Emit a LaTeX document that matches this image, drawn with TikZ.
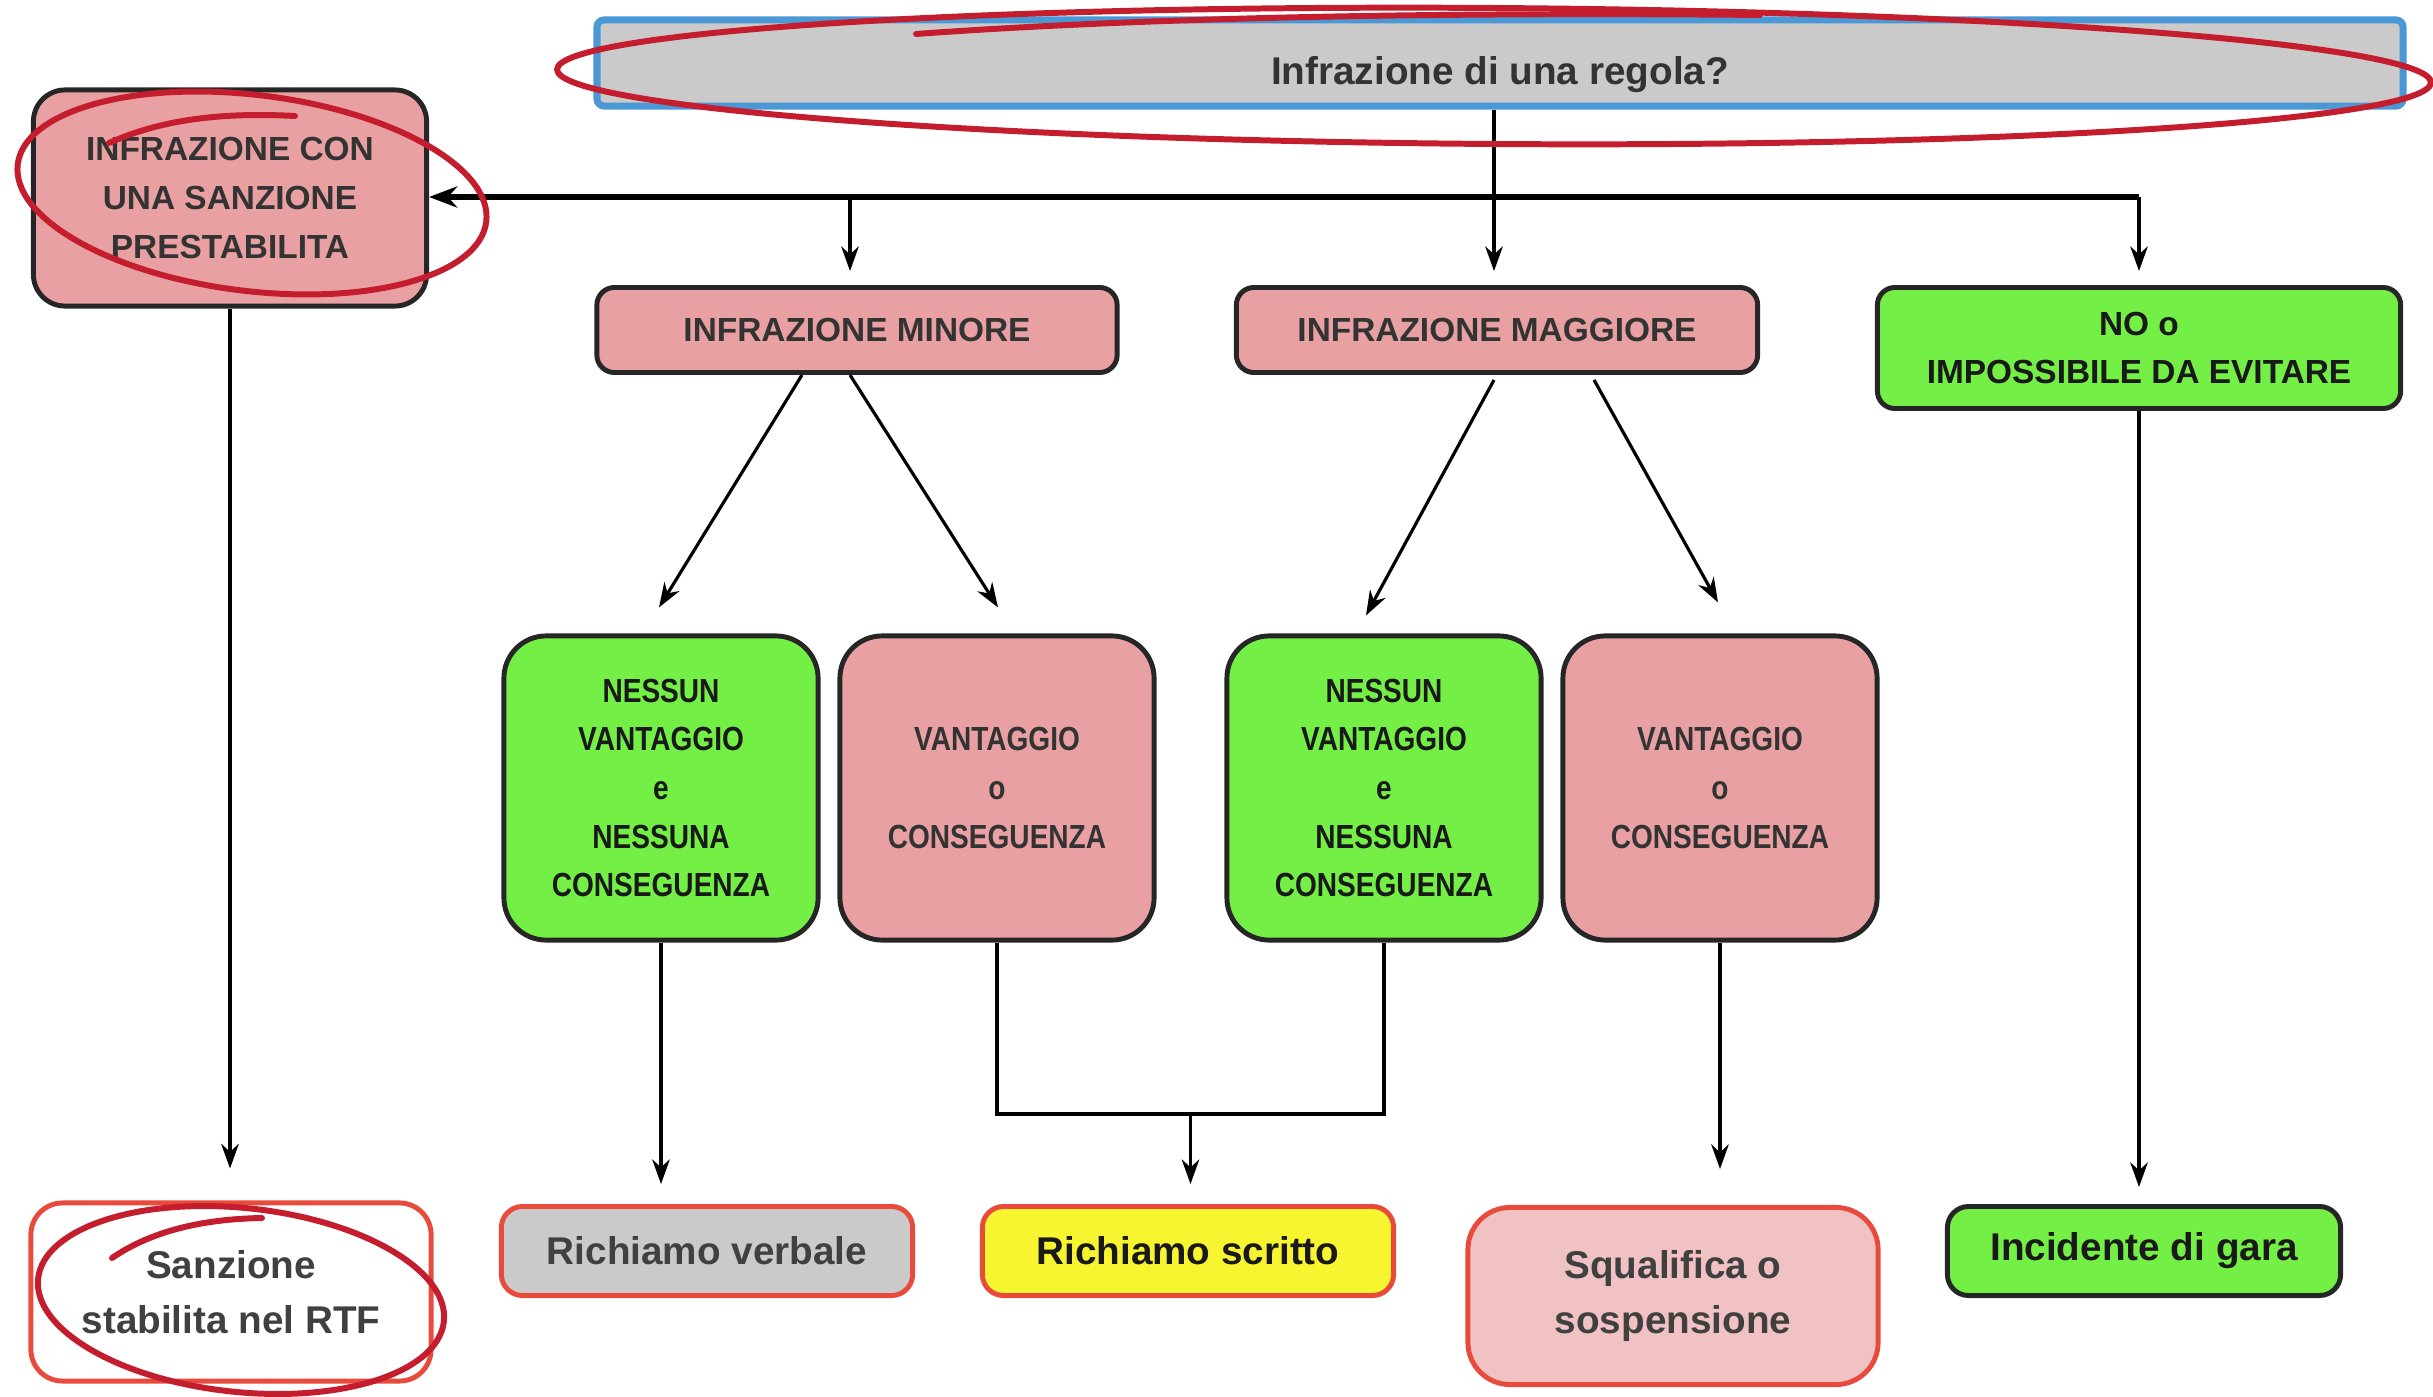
\documentclass[tikz,border=0pt]{standalone}
\usepackage{fontspec}
\setmainfont{Liberation Sans}
\newfontfamily\narrowfont[FakeStretch=0.84]{Liberation Sans}
\usepackage{tikz}
\usetikzlibrary{
  arrows.meta,
  positioning,
  calc
}
\definecolor{boxpink}{HTML}{E8A0A2}
\definecolor{boxgreen}{HTML}{73EF46}
\definecolor{boxgray}{HTML}{CACACA}
\definecolor{boxblue}{HTML}{4A98D6}
\definecolor{boxred}{HTML}{E84A3C}
\definecolor{boxyellow}{HTML}{F7F430}
\definecolor{softpink}{HTML}{F0C2C4}
\definecolor{markred}{HTML}{C41E2E}

\begin{document}
\begin{tikzpicture}[x=0.01cm, y=-0.01cm,
  box/.style     = {draw=black!85, line width=1.4pt, rounded corners=5pt, align=center,
                    inner sep=0pt, text=black!80, font=\fontsize{9.5}{13.8}\selectfont\bfseries},
  tallbox/.style = {box, rounded corners=12pt, minimum width=3.14cm, minimum height=3.04cm,
                    font=\narrowfont\fontsize{9.5}{13.8}\selectfont\bfseries},
  endbox/.style  = {draw=boxred, line width=1.4pt, rounded corners=6pt, align=center,
                    inner sep=0pt, text=black!75, font=\fontsize{11}{15.5}\selectfont\bfseries},
  arr/.style     = {line width=0.9pt, -{Stealth[length=7pt, width=5pt]}},
  bus/.style     = {line width=1.6pt},
  redmark/.style = {draw=markred, line width=1.7pt, line cap=round}
  ]
  \useasboundingbox (0,0) rectangle (2433,1397);

  % Question
  \node [draw=boxblue, line width=2pt, fill=boxgray, rounded corners=2pt, minimum width=18.05cm,
         minimum height=0.86cm, text=black!80, font=\fontsize{11}{13}\selectfont\bfseries] (regola) at (1500,63) {\raisebox{-6pt}[0pt][0pt]{Infrazione di una regola?}};

  % Kinds of infraction
  \node [box, fill=boxpink, minimum width=3.93cm, minimum height=2.16cm, rounded corners=9pt] (prestab) at (230,198) {INFRAZIONE CON\\UNA SANZIONE\\PRESTABILITA};
  \node [box, fill=boxpink, minimum width=5.2cm, minimum height=0.85cm] (minore) at (857,330) {INFRAZIONE MINORE};
  \node [box, fill=boxpink, minimum width=5.21cm, minimum height=0.85cm] (maggiore) at (1497,330) {INFRAZIONE MAGGIORE};
  \node [box, fill=boxgreen, minimum width=5.23cm, minimum height=1.21cm, text=black!90] (evitare) at (2139,348) {NO o\\IMPOSSIBILE DA EVITARE};

  % Advantage or not
  \node [tallbox, fill=boxgreen, text=black!90] (nessunA) at (661,788) {NESSUN\\VANTAGGIO\\e\\NESSUNA\\CONSEGUENZA};
  \node [tallbox, fill=boxpink] (vantA) at (997,788) {VANTAGGIO\\o\\CONSEGUENZA};
  \node [tallbox, fill=boxgreen, text=black!90] (nessunB) at (1384,788) {NESSUN\\VANTAGGIO\\e\\NESSUNA\\CONSEGUENZA};
  \node [tallbox, fill=boxpink] (vantB) at (1720,788) {VANTAGGIO\\o\\CONSEGUENZA};

  % Outcomes
  \node [endbox, fill=white, minimum width=4.0cm, minimum height=1.78cm, rounded corners=9pt] (rtf) at (231,1292) {Sanzione\\stabilita nel RTF};
  \node [endbox, fill=boxgray, minimum width=4.11cm, minimum height=0.89cm] (verbale) at (707,1251) {Richiamo verbale};
  \node [endbox, fill=boxyellow, minimum width=4.11cm, minimum height=0.89cm, text=black!90] (scritto) at (1188,1251) {Richiamo scritto};
  \node [endbox, fill=softpink, minimum width=4.1cm, minimum height=1.77cm, rounded corners=12pt] (squalifica) at (1673,1296) {Squalifica o\\sospensione};
  \node [endbox, draw=black!85, fill=boxgreen, minimum width=3.93cm, minimum height=0.89cm, text=black!90] (gara) at (2144,1251) {Incidente di gara};

  % Branching line
  \coordinate (busR) at (evitare.north |- 0,197);
  \draw [bus, -{Stealth[length=8pt, width=6pt]}] (busR) -- (prestab.east |- busR);
  \draw [arr, shorten >=0.14cm] (busR) -- (evitare.north);
  \draw [arr, shorten >=0.14cm] (regola.south -| 1494,0) -- (maggiore.north -| 1494,0);
  \draw [arr, shorten >=0.14cm] (busR -| 850,0) -- (minore.north -| 850,0);

  \draw [arr] ([xshift=-0.55cm]minore.south) -- ([xshift=-0.02cm, yshift=0.26cm]nessunA.north);
  \draw [arr] ([xshift=-0.07cm]minore.south) -- ([xshift=0.01cm, yshift=0.26cm]vantA.north);
  \draw [arr] ([xshift=-0.03cm, yshift=-0.05cm]maggiore.south) -- ([xshift=-0.18cm, yshift=0.18cm]nessunB.north);
  \draw [arr] ([xshift=0.97cm, yshift=-0.05cm]maggiore.south) -- ([xshift=-0.02cm, yshift=0.31cm]vantB.north);

  % To outcomes
  \draw [arr, shorten >=0.32cm] (prestab.south) -- (prestab.south |- rtf.north);
  \draw [arr, shorten >=0.2cm] (nessunA.south) -- (nessunA.south |- verbale.north);
  \coordinate (join) at ($(vantA.south |- 0,1114)!0.5!(nessunB.south |- 0,1114)$);
  \draw [line width=0.9pt] (vantA.south) -- (vantA.south |- join) -- (nessunB.south |- join) -- (nessunB.south);
  \draw [arr, shorten >=0.2cm] (join) -- (join |- scritto.north);
  \draw [arr, shorten >=0.36cm] (vantB.south) -- (vantB.south |- squalifica.north);
  \draw [arr, shorten >=0.17cm] (evitare.south) -- (evitare.south |- gara.north);

  % Hand drawn marks
  \draw [redmark] (1494,76) ellipse [x radius=937, y radius=68, rotate=-0.4];
  \draw [redmark] (916,34) .. controls (1150,17) and (1450,12) .. (1760,15);
  \draw [redmark] (252,193) ellipse [x radius=236, y radius=98, rotate=-7];
  \draw [redmark] (109,143) .. controls (160,120) and (220,112) .. (295,116);
  \draw [redmark] (241,1300) ellipse [x radius=204, y radius=92, rotate=-6];
  \draw [redmark] (112,1258) .. controls (150,1232) and (200,1219) .. (262,1218);
\end{tikzpicture}
\end{document}
